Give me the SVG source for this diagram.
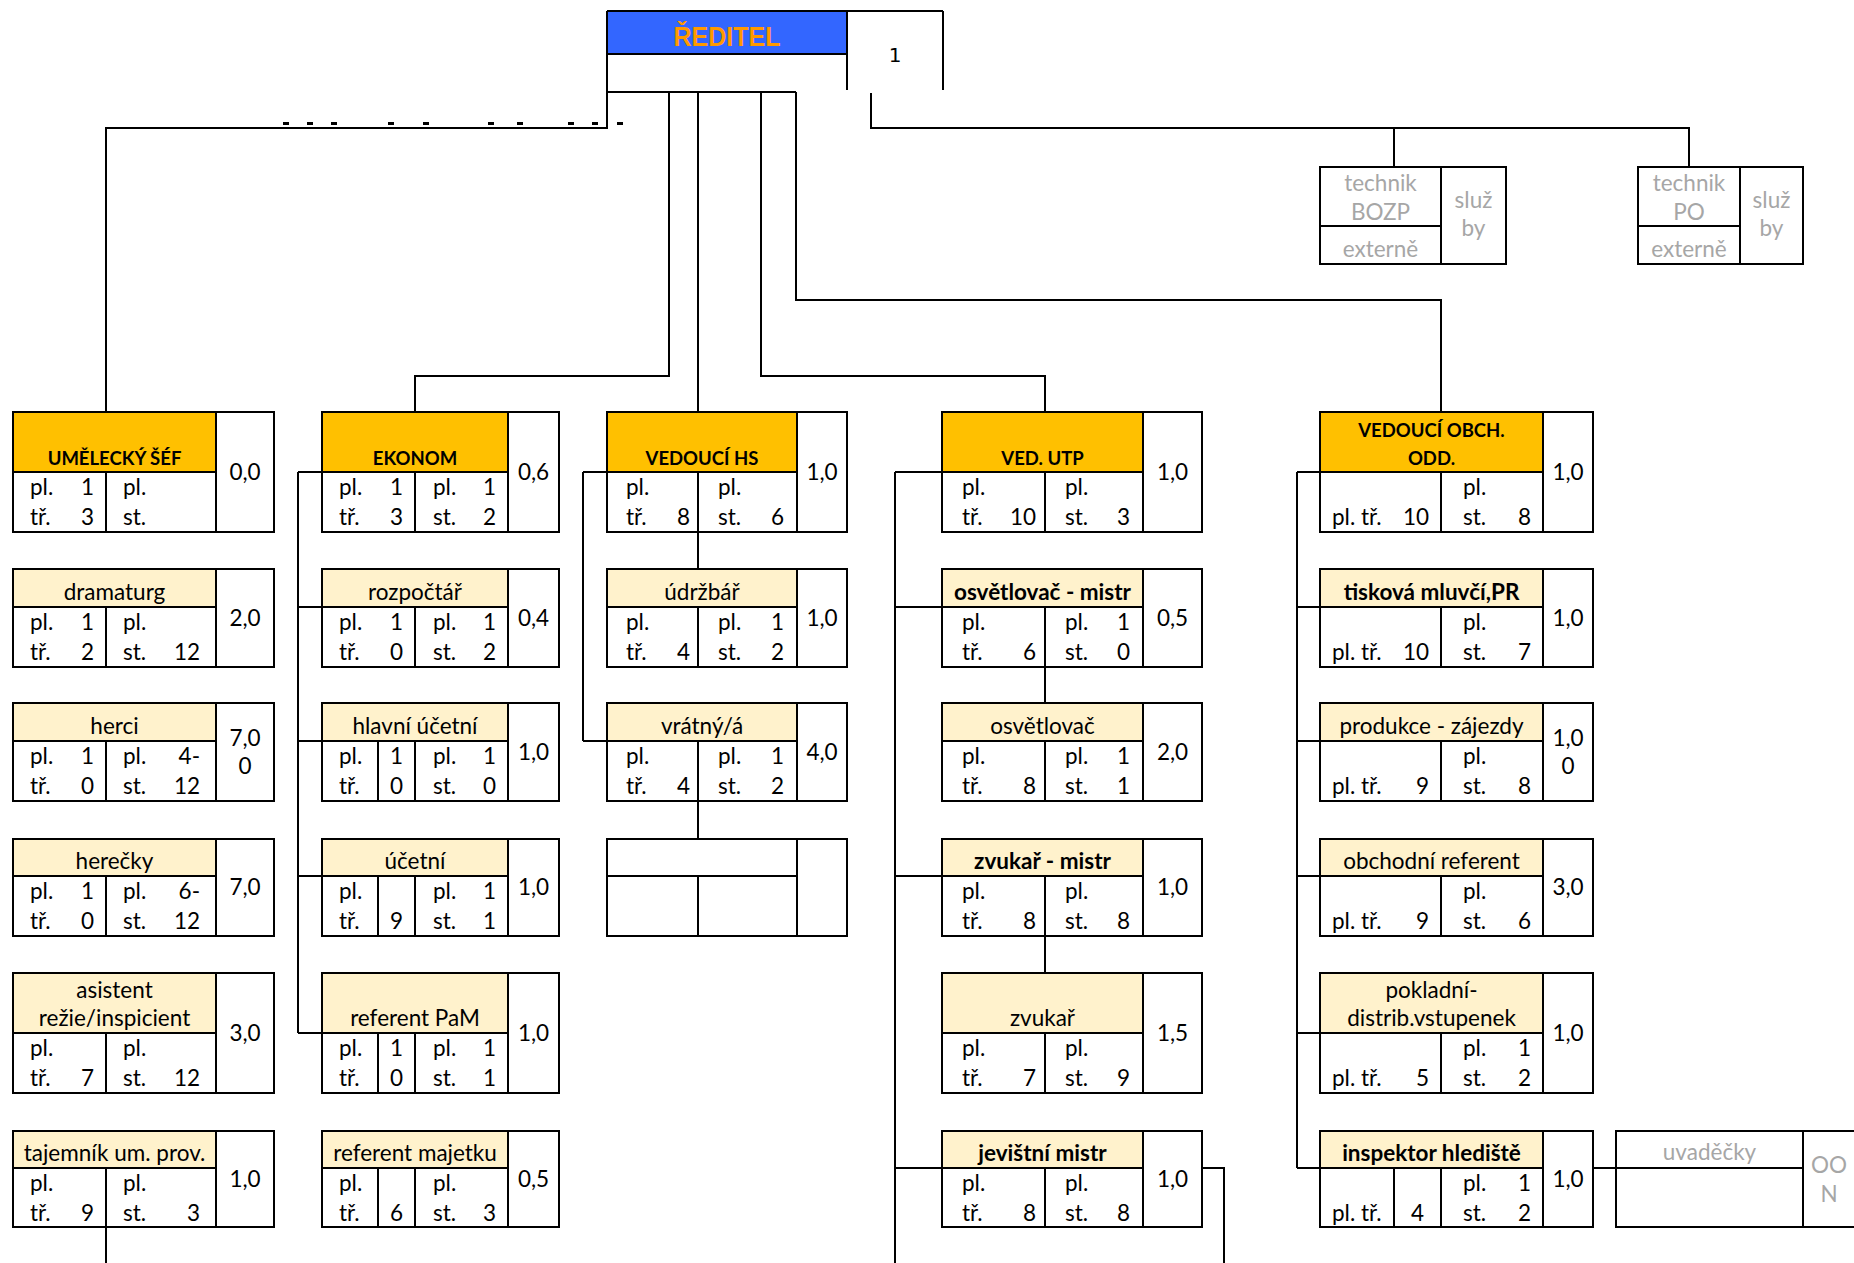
<svg xmlns="http://www.w3.org/2000/svg" width="1854" height="1263" viewBox="0 0 1854 1263">
<style>
.b{fill:none;stroke:#000;stroke-width:2}
.w{fill:#fff}
.hd{fill:#FFC000}
.hl{fill:#FFF2CC}
text{font-family:Lato,"Noto Sans",sans-serif;font-size:22.5px;fill:#000}
.bd{font-weight:bold;font-size:18.5px}
.bs{font-weight:bold}
.c{text-anchor:middle}
.r{text-anchor:end}
.g{fill:#A6A6A6}
.dash{fill:#000}
</style>
<rect x="0" y="0" width="1854" height="1263" fill="#fff"/>

<g id="connectors">
<path class="b" d="M607 92V128H106V412"/>
<path class="b" d="M669 92V376H415V412"/>
<path class="b" d="M698 92V412"/>
<path class="b" d="M761 92V376H1045V412"/>
<path class="b" d="M796 92V300H1441V412"/>
<path class="b" d="M871 93V128H1689V167M1394 128V167"/>
<g class="dash">
<rect x="283" y="122" width="6" height="3"/><rect x="307" y="122" width="6" height="3"/><rect x="331" y="122" width="6" height="3"/>
<rect x="388" y="122" width="6" height="3"/><rect x="423" y="122" width="6" height="3"/>
<rect x="488" y="122" width="6" height="3"/><rect x="517" y="122" width="6" height="3"/>
<rect x="568" y="122" width="6" height="3"/><rect x="592" y="122" width="6" height="3"/><rect x="617" y="122" width="6" height="3"/>
</g>
<path class="b" d="M106 1227V1263"/>
<path class="b" d="M298 472V1033M298 472H322M298 607H322M298 741H322M298 876H322M298 1033H322"/>
<path class="b" d="M583 472V741M583 472H607M583 741H607M698 532V569M698 801V839"/>
<path class="b" d="M895 472V1263M895 472H942M895 607H942M895 876H942M895 1168H942M1045 667V703M1045 936V973M1202 1168H1224V1263"/>
<path class="b" d="M1297 472V1168M1297 472H1320M1297 607H1320M1297 741H1320M1297 876H1320M1297 1033H1320M1297 1168H1320M1593 1168H1616"/>
</g>

<g id="reditel">
<rect x="607" y="11" width="240" height="43" fill="#3366FF"/>
<path class="b" d="M607 11H943M607 11V128M607 54H847M847 11V90M943 11V90M607 92H796"/>
<text x="727" y="46" class="c" style="font-family:'Liberation Sans Narrow','Liberation Sans',sans-serif;font-weight:bold;font-size:27px;fill:#FF9900" textLength="107" lengthAdjust="spacingAndGlyphs">ŘEDITEL</text>
<text x="895" y="62" class="c" style="font-family:'DejaVu Sans',sans-serif;font-size:20px">1</text>
</g>

<g id="bozp">
<rect class="b w" x="1320" y="167" width="186" height="97"/>
<path class="b" d="M1441 167V264M1320 226H1441"/>
<text class="c g" x="1380.5" y="191">technik</text>
<text class="c g" x="1380.5" y="220">BOZP</text>
<text class="c g" x="1380.5" y="257">externě</text>
<text class="c g" x="1473.5" y="208">služ</text>
<text class="c g" x="1473.5" y="236">by</text>
</g>
<g id="po">
<rect class="b w" x="1638" y="167" width="165" height="97"/>
<path class="b" d="M1740 167V264M1638 226H1740"/>
<text class="c g" x="1689" y="191">technik</text>
<text class="c g" x="1689" y="220">PO</text>
<text class="c g" x="1689" y="257">externě</text>
<text class="c g" x="1771.5" y="208">služ</text>
<text class="c g" x="1771.5" y="236">by</text>
</g>

<!-- Column 1 -->
<g id="umelecky-sef">
<rect class="hd" x="13" y="412" width="203" height="60"/>
<rect class="b" x="13" y="412" width="261" height="120"/>
<path class="b" d="M216 412V532M13 472H216M106 472V532"/>
<text class="c bd" x="114.5" y="465">UMĚLECKÝ ŠÉF</text>
<text x="30" y="495">pl.</text><text class="r" x="94" y="495">1</text>
<text x="30" y="525">tř.</text><text class="r" x="94" y="525">3</text>
<text x="123" y="495">pl.</text><text x="123" y="525">st.</text>
<text class="c" x="245" y="480">0,0</text>
</g>
<g id="dramaturg">
<rect class="hl" x="13" y="569" width="203" height="38"/>
<rect class="b" x="13" y="569" width="261" height="98"/>
<path class="b" d="M216 569V667M13 607H216M106 607V667"/>
<text class="c" x="114.5" y="600">dramaturg</text>
<text x="30" y="630">pl.</text><text class="r" x="94" y="630">1</text>
<text x="30" y="660">tř.</text><text class="r" x="94" y="660">2</text>
<text x="123" y="630">pl.</text><text x="123" y="660">st.</text><text class="r" x="200" y="660">12</text>
<text class="c" x="245" y="626">2,0</text>
</g>
<g id="herci">
<rect class="hl" x="13" y="703" width="203" height="38"/>
<rect class="b" x="13" y="703" width="261" height="98"/>
<path class="b" d="M216 703V801M13 741H216M106 741V801"/>
<text class="c" x="114.5" y="734">herci</text>
<text x="30" y="764">pl.</text><text class="r" x="94" y="764">1</text>
<text x="30" y="794">tř.</text><text class="r" x="94" y="794">0</text>
<text x="123" y="764">pl.</text><text class="r" x="200" y="764">4-</text>
<text x="123" y="794">st.</text><text class="r" x="200" y="794">12</text>
<text class="c" x="245" y="746">7,0</text><text class="c" x="245" y="774">0</text>
</g>
<g id="herecky">
<rect class="hl" x="13" y="839" width="203" height="37"/>
<rect class="b" x="13" y="839" width="261" height="97"/>
<path class="b" d="M216 839V936M13 876H216M106 876V936"/>
<text class="c" x="114.5" y="869">herečky</text>
<text x="30" y="899">pl.</text><text class="r" x="94" y="899">1</text>
<text x="30" y="929">tř.</text><text class="r" x="94" y="929">0</text>
<text x="123" y="899">pl.</text><text class="r" x="200" y="899">6-</text>
<text x="123" y="929">st.</text><text class="r" x="200" y="929">12</text>
<text class="c" x="245" y="895">7,0</text>
</g>
<g id="asistent">
<rect class="hl" x="13" y="973" width="203" height="60"/>
<rect class="b" x="13" y="973" width="261" height="120"/>
<path class="b" d="M216 973V1093M13 1033H216M106 1033V1093"/>
<text class="c" x="114.5" y="998">asistent</text>
<text class="c" x="114.5" y="1026">režie/inspicient</text>
<text x="30" y="1056">pl.</text>
<text x="30" y="1086">tř.</text><text class="r" x="94" y="1086">7</text>
<text x="123" y="1056">pl.</text>
<text x="123" y="1086">st.</text><text class="r" x="200" y="1086">12</text>
<text class="c" x="245" y="1041">3,0</text>
</g>
<g id="tajemnik">
<rect class="hl" x="13" y="1131" width="203" height="37"/>
<rect class="b" x="13" y="1131" width="261" height="96"/>
<path class="b" d="M216 1131V1227M13 1168H216M106 1168V1227"/>
<text class="c" x="114.5" y="1161">tajemník um. prov.</text>
<text x="30" y="1191">pl.</text>
<text x="30" y="1221">tř.</text><text class="r" x="94" y="1221">9</text>
<text x="123" y="1191">pl.</text>
<text x="123" y="1221">st.</text><text class="r" x="200" y="1221">3</text>
<text class="c" x="245" y="1187">1,0</text>
</g>

<!-- Column 2 -->
<g id="ekonom">
<rect class="hd" x="322" y="412" width="186" height="60"/>
<rect class="b" x="322" y="412" width="237" height="120"/>
<path class="b" d="M508 412V532M322 472H508M415 472V532"/>
<text class="c bd" x="415" y="465">EKONOM</text>
<text x="339" y="495">pl.</text><text class="r" x="403" y="495">1</text>
<text x="339" y="525">tř.</text><text class="r" x="403" y="525">3</text>
<text x="433" y="495">pl.</text><text class="r" x="496" y="495">1</text>
<text x="433" y="525">st.</text><text class="r" x="496" y="525">2</text>
<text class="c" x="533.5" y="480">0,6</text>
</g>
<g id="rozpoctar">
<rect class="hl" x="322" y="569" width="186" height="38"/>
<rect class="b" x="322" y="569" width="237" height="98"/>
<path class="b" d="M508 569V667M322 607H508M415 607V667"/>
<text class="c" x="415" y="600">rozpočtář</text>
<text x="339" y="630">pl.</text><text class="r" x="403" y="630">1</text>
<text x="339" y="660">tř.</text><text class="r" x="403" y="660">0</text>
<text x="433" y="630">pl.</text><text class="r" x="496" y="630">1</text>
<text x="433" y="660">st.</text><text class="r" x="496" y="660">2</text>
<text class="c" x="533.5" y="626">0,4</text>
</g>
<g id="hlavni-ucetni">
<rect class="hl" x="322" y="703" width="186" height="38"/>
<rect class="b" x="322" y="703" width="237" height="98"/>
<path class="b" d="M508 703V801M322 741H508M415 741V801M378 741V801"/>
<text class="c" x="415" y="734">hlavní účetní</text>
<text x="339" y="764">pl.</text><text class="c" x="396.5" y="764">1</text>
<text x="339" y="794">tř.</text><text class="c" x="396.5" y="794">0</text>
<text x="433" y="764">pl.</text><text class="r" x="496" y="764">1</text>
<text x="433" y="794">st.</text><text class="r" x="496" y="794">0</text>
<text class="c" x="533.5" y="760">1,0</text>
</g>
<g id="ucetni">
<rect class="hl" x="322" y="839" width="186" height="37"/>
<rect class="b" x="322" y="839" width="237" height="97"/>
<path class="b" d="M508 839V936M322 876H508M415 876V936M378 876V936"/>
<text class="c" x="415" y="869">účetní</text>
<text x="339" y="899">pl.</text>
<text x="339" y="929">tř.</text><text class="c" x="396.5" y="929">9</text>
<text x="433" y="899">pl.</text><text class="r" x="496" y="899">1</text>
<text x="433" y="929">st.</text><text class="r" x="496" y="929">1</text>
<text class="c" x="533.5" y="895">1,0</text>
</g>
<g id="referent-pam">
<rect class="hl" x="322" y="973" width="186" height="60"/>
<rect class="b" x="322" y="973" width="237" height="120"/>
<path class="b" d="M508 973V1093M322 1033H508M415 1033V1093M378 1033V1093"/>
<text class="c" x="415" y="1026">referent PaM</text>
<text x="339" y="1056">pl.</text><text class="c" x="396.5" y="1056">1</text>
<text x="339" y="1086">tř.</text><text class="c" x="396.5" y="1086">0</text>
<text x="433" y="1056">pl.</text><text class="r" x="496" y="1056">1</text>
<text x="433" y="1086">st.</text><text class="r" x="496" y="1086">1</text>
<text class="c" x="533.5" y="1041">1,0</text>
</g>
<g id="referent-majetku">
<rect class="hl" x="322" y="1131" width="186" height="37"/>
<rect class="b" x="322" y="1131" width="237" height="96"/>
<path class="b" d="M508 1131V1227M322 1168H508M415 1168V1227M378 1168V1227"/>
<text class="c" x="415" y="1161">referent majetku</text>
<text x="339" y="1191">pl.</text>
<text x="339" y="1221">tř.</text><text class="c" x="396.5" y="1221">6</text>
<text x="433" y="1191">pl.</text>
<text x="433" y="1221">st.</text><text class="r" x="496" y="1221">3</text>
<text class="c" x="533.5" y="1187">0,5</text>
</g>

<!-- Column 3 -->
<g id="vedouci-hs">
<rect class="hd" x="607" y="412" width="190" height="60"/>
<rect class="b" x="607" y="412" width="240" height="120"/>
<path class="b" d="M797 412V532M607 472H797M698 472V532"/>
<text class="c bd" x="702" y="465">VEDOUCÍ HS</text>
<text x="626" y="495">pl.</text>
<text x="626" y="525">tř.</text><text class="r" x="690" y="525">8</text>
<text x="718" y="495">pl.</text>
<text x="718" y="525">st.</text><text class="r" x="784" y="525">6</text>
<text class="c" x="822" y="480">1,0</text>
</g>
<g id="udrzbar">
<rect class="hl" x="607" y="569" width="190" height="38"/>
<rect class="b" x="607" y="569" width="240" height="98"/>
<path class="b" d="M797 569V667M607 607H797M698 607V667"/>
<text class="c" x="702" y="600">údržbář</text>
<text x="626" y="630">pl.</text>
<text x="626" y="660">tř.</text><text class="r" x="690" y="660">4</text>
<text x="718" y="630">pl.</text><text class="r" x="784" y="630">1</text>
<text x="718" y="660">st.</text><text class="r" x="784" y="660">2</text>
<text class="c" x="822" y="626">1,0</text>
</g>
<g id="vratny">
<rect class="hl" x="607" y="703" width="190" height="38"/>
<rect class="b" x="607" y="703" width="240" height="98"/>
<path class="b" d="M797 703V801M607 741H797M698 741V801"/>
<text class="c" x="702" y="734">vrátný/á</text>
<text x="626" y="764">pl.</text>
<text x="626" y="794">tř.</text><text class="r" x="690" y="794">4</text>
<text x="718" y="764">pl.</text><text class="r" x="784" y="764">1</text>
<text x="718" y="794">st.</text><text class="r" x="784" y="794">2</text>
<text class="c" x="822" y="760">4,0</text>
</g>
<g id="prazdny">
<rect class="b" x="607" y="839" width="240" height="97"/>
<path class="b" d="M797 839V936M607 876H797M698 876V936"/>
</g>

<!-- Column 4 -->
<g id="ved-utp">
<rect class="hd" x="942" y="412" width="201" height="60"/>
<rect class="b" x="942" y="412" width="260" height="120"/>
<path class="b" d="M1143 412V532M942 472H1143M1045 472V532"/>
<text class="c bd" x="1042.5" y="465">VED. UTP</text>
<text x="962" y="495">pl.</text>
<text x="962" y="525">tř.</text><text class="r" x="1036" y="525">10</text>
<text x="1065" y="495">pl.</text>
<text x="1065" y="525">st.</text><text class="r" x="1130" y="525">3</text>
<text class="c" x="1172.5" y="480">1,0</text>
</g>
<g id="osvetlovac-mistr">
<rect class="hl" x="942" y="569" width="201" height="38"/>
<rect class="b" x="942" y="569" width="260" height="98"/>
<path class="b" d="M1143 569V667M942 607H1143M1045 607V667"/>
<text class="c bs" x="1042.5" y="600">osvětlovač - mistr</text>
<text x="962" y="630">pl.</text>
<text x="962" y="660">tř.</text><text class="r" x="1036" y="660">6</text>
<text x="1065" y="630">pl.</text><text class="r" x="1130" y="630">1</text>
<text x="1065" y="660">st.</text><text class="r" x="1130" y="660">0</text>
<text class="c" x="1172.5" y="626">0,5</text>
</g>
<g id="osvetlovac">
<rect class="hl" x="942" y="703" width="201" height="38"/>
<rect class="b" x="942" y="703" width="260" height="98"/>
<path class="b" d="M1143 703V801M942 741H1143M1045 741V801"/>
<text class="c" x="1042.5" y="734">osvětlovač</text>
<text x="962" y="764">pl.</text>
<text x="962" y="794">tř.</text><text class="r" x="1036" y="794">8</text>
<text x="1065" y="764">pl.</text><text class="r" x="1130" y="764">1</text>
<text x="1065" y="794">st.</text><text class="r" x="1130" y="794">1</text>
<text class="c" x="1172.5" y="760">2,0</text>
</g>
<g id="zvukar-mistr">
<rect class="hl" x="942" y="839" width="201" height="37"/>
<rect class="b" x="942" y="839" width="260" height="97"/>
<path class="b" d="M1143 839V936M942 876H1143M1045 876V936"/>
<text class="c bs" x="1042.5" y="869">zvukař - mistr</text>
<text x="962" y="899">pl.</text>
<text x="962" y="929">tř.</text><text class="r" x="1036" y="929">8</text>
<text x="1065" y="899">pl.</text>
<text x="1065" y="929">st.</text><text class="r" x="1130" y="929">8</text>
<text class="c" x="1172.5" y="895">1,0</text>
</g>
<g id="zvukar">
<rect class="hl" x="942" y="973" width="201" height="60"/>
<rect class="b" x="942" y="973" width="260" height="120"/>
<path class="b" d="M1143 973V1093M942 1033H1143M1045 1033V1093"/>
<text class="c" x="1042.5" y="1026">zvukař</text>
<text x="962" y="1056">pl.</text>
<text x="962" y="1086">tř.</text><text class="r" x="1036" y="1086">7</text>
<text x="1065" y="1056">pl.</text>
<text x="1065" y="1086">st.</text><text class="r" x="1130" y="1086">9</text>
<text class="c" x="1172.5" y="1041">1,5</text>
</g>
<g id="jevistni-mistr">
<rect class="hl" x="942" y="1131" width="201" height="37"/>
<rect class="b" x="942" y="1131" width="260" height="96"/>
<path class="b" d="M1143 1131V1227M942 1168H1143M1045 1168V1227"/>
<text class="c bs" x="1042.5" y="1161">jevištní mistr</text>
<text x="962" y="1191">pl.</text>
<text x="962" y="1221">tř.</text><text class="r" x="1036" y="1221">8</text>
<text x="1065" y="1191">pl.</text>
<text x="1065" y="1221">st.</text><text class="r" x="1130" y="1221">8</text>
<text class="c" x="1172.5" y="1187">1,0</text>
</g>

<!-- Column 5 -->
<g id="vedouci-obch">
<rect class="hd" x="1320" y="412" width="223" height="60"/>
<rect class="b" x="1320" y="412" width="273" height="120"/>
<path class="b" d="M1543 412V532M1320 472H1543M1441 472V532"/>
<text class="c bd" x="1431.5" y="437">VEDOUCÍ OBCH.</text>
<text class="c bd" x="1431.5" y="465">ODD.</text>
<text x="1332" y="525">pl. tř.</text><text class="r" x="1429" y="525">10</text>
<text x="1463" y="495">pl.</text>
<text x="1463" y="525">st.</text><text class="r" x="1531" y="525">8</text>
<text class="c" x="1568" y="480">1,0</text>
</g>
<g id="tiskova-mluvci">
<rect class="hl" x="1320" y="569" width="223" height="38"/>
<rect class="b" x="1320" y="569" width="273" height="98"/>
<path class="b" d="M1543 569V667M1320 607H1543M1441 607V667"/>
<text class="c bs" x="1431.5" y="600">tisková mluvčí,PR</text>
<text x="1332" y="660">pl. tř.</text><text class="r" x="1429" y="660">10</text>
<text x="1463" y="630">pl.</text>
<text x="1463" y="660">st.</text><text class="r" x="1531" y="660">7</text>
<text class="c" x="1568" y="626">1,0</text>
</g>
<g id="produkce">
<rect class="hl" x="1320" y="703" width="223" height="38"/>
<rect class="b" x="1320" y="703" width="273" height="98"/>
<path class="b" d="M1543 703V801M1320 741H1543M1441 741V801"/>
<text class="c" x="1431.5" y="734">produkce - zájezdy</text>
<text x="1332" y="794">pl. tř.</text><text class="r" x="1429" y="794">9</text>
<text x="1463" y="764">pl.</text>
<text x="1463" y="794">st.</text><text class="r" x="1531" y="794">8</text>
<text class="c" x="1568" y="746">1,0</text><text class="c" x="1568" y="774">0</text>
</g>
<g id="obchodni-referent">
<rect class="hl" x="1320" y="839" width="223" height="37"/>
<rect class="b" x="1320" y="839" width="273" height="97"/>
<path class="b" d="M1543 839V936M1320 876H1543M1441 876V936"/>
<text class="c" x="1431.5" y="869">obchodní referent</text>
<text x="1332" y="929">pl. tř.</text><text class="r" x="1429" y="929">9</text>
<text x="1463" y="899">pl.</text>
<text x="1463" y="929">st.</text><text class="r" x="1531" y="929">6</text>
<text class="c" x="1568" y="895">3,0</text>
</g>
<g id="pokladni">
<rect class="hl" x="1320" y="973" width="223" height="60"/>
<rect class="b" x="1320" y="973" width="273" height="120"/>
<path class="b" d="M1543 973V1093M1320 1033H1543M1441 1033V1093"/>
<text class="c" x="1431.5" y="998">pokladní-</text>
<text class="c" x="1431.5" y="1026">distrib.vstupenek</text>
<text x="1332" y="1086">pl. tř.</text><text class="r" x="1429" y="1086">5</text>
<text x="1463" y="1056">pl.</text><text class="r" x="1531" y="1056">1</text>
<text x="1463" y="1086">st.</text><text class="r" x="1531" y="1086">2</text>
<text class="c" x="1568" y="1041">1,0</text>
</g>
<g id="inspektor-hlediste">
<rect class="hl" x="1320" y="1131" width="223" height="37"/>
<rect class="b" x="1320" y="1131" width="273" height="96"/>
<path class="b" d="M1543 1131V1227M1320 1168H1543M1441 1168V1227M1394 1168V1227"/>
<text class="c bs" x="1431.5" y="1161">inspektor hlediště</text>
<text x="1332" y="1221">pl. tř.</text><text class="c" x="1417.5" y="1221">4</text>
<text x="1463" y="1191">pl.</text><text class="r" x="1531" y="1191">1</text>
<text x="1463" y="1221">st.</text><text class="r" x="1531" y="1221">2</text>
<text class="c" x="1568" y="1187">1,0</text>
</g>
<g id="uvadecky">
<rect class="b" x="1616" y="1131" width="250" height="96"/>
<path class="b" d="M1616 1168H1803M1803 1131V1227"/>
<text class="c g" x="1709.5" y="1160">uvaděčky</text>
<text class="c g" x="1829" y="1173">OO</text>
<text class="c g" x="1829" y="1202">N</text>
</g>
</svg>
